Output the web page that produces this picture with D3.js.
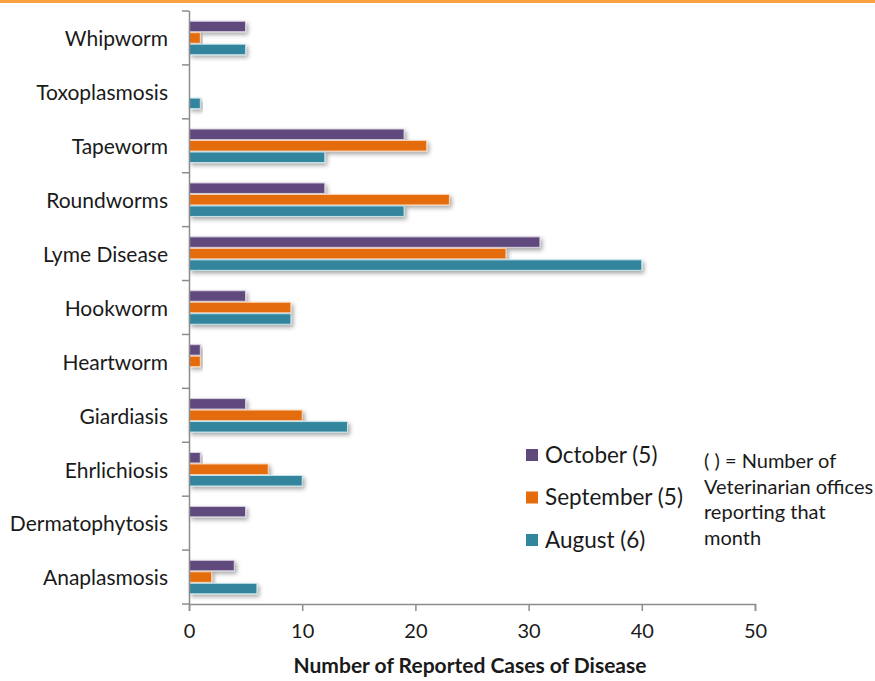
<!DOCTYPE html>
<html>
<head>
<meta charset="utf-8">
<script src="https://cdn.jsdelivr.net/npm/d3@7"></script>
<style>
  body { margin: 0; background: #fff; }
  svg { display: block; font-family: Lato, "Open Sans", sans-serif; }
</style>
</head>
<body>
<svg width="875" height="681"></svg>
<script>
// categories top to bottom
const diseases = ["Whipworm", "Toxoplasmosis", "Tapeworm", "Roundworms", "Lyme Disease",
  "Hookworm", "Heartworm", "Giardiasis", "Ehrlichiosis", "Dermatophytosis", "Anaplasmosis"];
const october   = [5, 0, 19, 12, 31, 5, 1, 5, 1, 5, 4];
const september = [1, 0, 21, 23, 28, 9, 1, 10, 7, 0, 2];
const august    = [5, 1, 12, 19, 40, 9, 0, 14, 10, 0, 6];
const seriesNames = ["October (5)", "September (5)", "August (6)"];
const xTicks = [0, 10, 20, 30, 40, 50];

const colors = ["#604a7b", "#e46c0a", "#31859c"];
const strokes = ["#d9d2e3", "#fbd5b5", "#c6e4ec"];
const series = [october, september, august];

const svg = d3.select("svg");
const margin = { top: 11, right: 120, bottom: 77, left: 189 };
const width = 755 - margin.left;
const height = 604 - margin.top;

// top orange rule
svg.append("rect").attr("x", 0).attr("y", 0).attr("width", 875).attr("height", 3)
  .attr("fill", "#f9a03f");

const defs = svg.append("defs");
const f = defs.append("filter").attr("id", "shadow")
  .attr("x", "-10%").attr("y", "-50%").attr("width", "130%").attr("height", "220%");
f.append("feDropShadow").attr("dx", 2).attr("dy", 2.5).attr("stdDeviation", 2)
  .attr("flood-color", "#000").attr("flood-opacity", 0.35);

const g = svg.append("g").attr("transform", `translate(${margin.left},${margin.top})`);

const x = d3.scaleLinear().domain([0, 50]).range([0, width]);
const y = d3.scaleBand().domain(diseases).range([0, height]).paddingInner(0.36).paddingOuter(0.18);
const ySub = d3.scaleBand().domain([0, 1, 2]).range([0, y.bandwidth()]);

// bars
diseases.forEach((d, i) => {
  series.forEach((s, k) => {
    if (s[i] <= 0) return;
    g.append("rect")
      .attr("x", x(0) + 0.5)
      .attr("y", y(d) + ySub(k) + 0.5)
      .attr("width", x(s[i]) - x(0) - 0.5)
      .attr("height", ySub.bandwidth() - 1)
      .attr("fill", colors[k])
      .attr("stroke", strokes[k])
      .attr("stroke-width", 1)
      .attr("filter", "url(#shadow)");
  });
});

// y axis line and ticks between categories
const axisColor = "#8c8c8c";
g.append("line").attr("x1", 0.5).attr("x2", 0.5).attr("y1", 0).attr("y2", height)
  .attr("stroke", axisColor).attr("stroke-width", 1.5);
const step = height / diseases.length;
d3.range(diseases.length + 1).forEach(j => {
  g.append("line").attr("x1", -7).attr("x2", 0).attr("y1", j * step).attr("y2", j * step)
    .attr("stroke", axisColor).attr("stroke-width", 1.5);
});

g.selectAll(".ylab").data(diseases).enter().append("text")
  .attr("x", -21)
  .attr("y", d => y(d) + y.bandwidth() / 2 + 1)
  .attr("dy", "0.35em")
  .attr("text-anchor", "end")
  .attr("font-size", 21)
  .attr("fill", "#1a1a1a")
  .text(d => d);

// x axis
const xAxis = g.append("g").attr("transform", `translate(0,${height})`)
  .call(d3.axisBottom(x).tickValues(xTicks).tickSize(7).tickPadding(13));
xAxis.select(".domain").attr("stroke", axisColor).attr("stroke-width", 1.5);
xAxis.selectAll(".tick line").attr("stroke", axisColor).attr("stroke-width", 1.5);
xAxis.selectAll("text").attr("font-size", 20).attr("fill", "#1a1a1a")
  .attr("font-family", "Lato, sans-serif");

svg.append("text").attr("x", margin.left + width / 2 - 2).attr("y", 673)
  .attr("text-anchor", "middle").attr("font-size", 21).attr("font-weight", "bold")
  .attr("fill", "#1a1a1a").text("Number of Reported Cases of Disease");

// legend
const legend = svg.append("g").attr("transform", "translate(526,455)");
seriesNames.forEach((n, k) => {
  const row = legend.append("g").attr("transform", `translate(0,${k * 42.5})`);
  row.append("rect").attr("x", 0).attr("y", -6).attr("width", 12).attr("height", 12)
    .attr("fill", colors[k]);
  row.append("text").attr("x", 19).attr("y", 0).attr("dy", "0.35em")
    .attr("font-size", 22.5).attr("fill", "#1a1a1a").text(n);
});

const note = ["( ) = Number of", "Veterinarian offices", "reporting that", "month"];
svg.append("g").selectAll("text").data(note).enter().append("text")
  .attr("x", 704).attr("y", (d, i) => 468 + i * 25.5)
  .attr("font-size", 20).attr("fill", "#1a1a1a").text(d => d);
</script>
</body>
</html>
